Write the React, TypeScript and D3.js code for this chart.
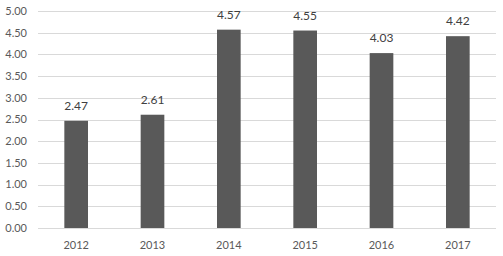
import { useRef, useEffect } from 'react';
import { select, scaleBand, scaleLinear, range } from 'd3';

const years = ['2012', '2013', '2014', '2015', '2016', '2017'];
const values = [2.47, 2.61, 4.57, 4.55, 4.03, 4.42];
const yTicks = range(0, 5.01, 0.5);

const WIDTH = 503;
const HEIGHT = 256;
const LEFT = 38;
const RIGHT = 496;
const TOP = 11;
const BOTTOM = 228;
const FONT = 'Lato, "Open Sans", sans-serif';

export default function App() {
  const svgRef = useRef<SVGSVGElement>(null);

  useEffect(() => {
    const svg = select(svgRef.current);
    svg.selectAll('*').remove();

    const x = scaleBand<string>().domain(years).range([LEFT, RIGHT]).paddingInner(0.69).paddingOuter(0.345);
    const y = scaleLinear().domain([0, 5]).range([BOTTOM, TOP]);

    // gridlines
    svg
      .append('g')
      .selectAll('line')
      .data(yTicks)
      .enter()
      .append('line')
      .attr('x1', LEFT)
      .attr('x2', RIGHT)
      .attr('y1', (d) => Math.round(y(d)) + 0.5)
      .attr('y2', (d) => Math.round(y(d)) + 0.5)
      .attr('stroke', '#d9d9d9')
      .attr('stroke-width', 1);

    // y labels
    svg
      .append('g')
      .selectAll('text')
      .data(yTicks)
      .enter()
      .append('text')
      .attr('x', 27)
      .attr('y', (d) => y(d))
      .attr('dy', '0.35em')
      .attr('text-anchor', 'end')
      .attr('font-family', FONT)
      .attr('font-size', 11)
      .attr('fill', '#595959')
      .text((d) => d.toFixed(2));

    // bars
    svg
      .append('g')
      .selectAll('rect')
      .data(values)
      .enter()
      .append('rect')
      .attr('x', (_d, i) => x(years[i])!)
      .attr('width', x.bandwidth())
      .attr('y', (d) => y(d))
      .attr('height', (d) => BOTTOM - y(d))
      .attr('fill', '#595959');

    // value labels
    svg
      .append('g')
      .selectAll('text')
      .data(values)
      .enter()
      .append('text')
      .attr('x', (_d, i) => x(years[i])! + x.bandwidth() / 2)
      .attr('y', (d) => y(d) - 11)
      .attr('text-anchor', 'middle')
      .attr('font-family', FONT)
      .attr('font-size', 12)
      .attr('fill', '#404040')
      .text((d) => d.toFixed(2));

    // category labels
    svg
      .append('g')
      .selectAll('text')
      .data(years)
      .enter()
      .append('text')
      .attr('x', (d) => x(d)! + x.bandwidth() / 2)
      .attr('y', 245)
      .attr('dy', '0.35em')
      .attr('text-anchor', 'middle')
      .attr('font-family', FONT)
      .attr('font-size', 11)
      .attr('fill', '#595959')
      .text((d) => d);
  }, []);

  return (
    <svg
      ref={svgRef}
      width={WIDTH}
      height={HEIGHT}
      style={{ position: 'absolute', left: 0, top: 0, background: '#fff' }}
    />
  );
}
